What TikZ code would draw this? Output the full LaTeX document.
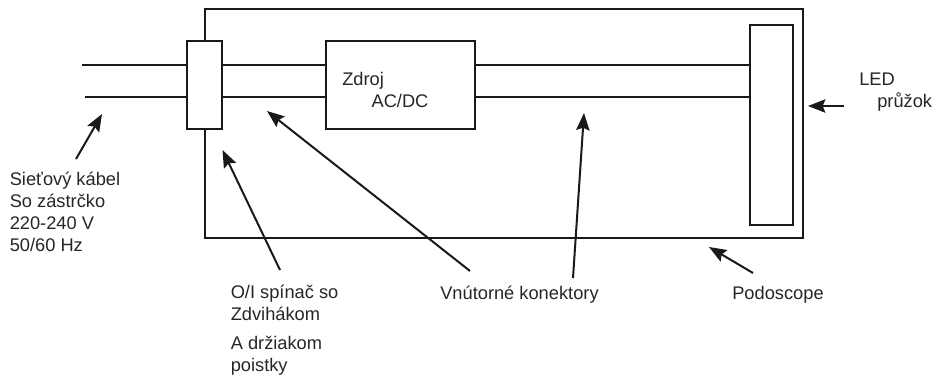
\documentclass[tikz,border=0pt]{standalone}
\usepackage{fontspec}
\setmainfont{Liberation Sans}
\usetikzlibrary{arrows.meta, positioning}

\begin{document}
\begin{tikzpicture}[
    x=0.75pt, y=-0.75pt,
    font=\fontsize{13.7}{16.3}\selectfont,
    part/.style={rectangle, draw=black!90, fill=white, line width=1.5pt, inner sep=0pt},
    wire/.style={draw=black!90, line width=1.5pt},
    arrow/.style={-{Stealth[length=13pt, width=10pt, inset=2pt]}, line width=1.5pt, draw=black!90},
    label/.style={align=left, inner sep=0pt, text=black!85, anchor=base west}
]
\useasboundingbox (0,0) rectangle (935,375);

% Nodes
\node[part, minimum width=598*0.75pt, minimum height=229*0.75pt, anchor=north west] (podo) at (204,8) {};
\node[part, minimum width=35*0.75pt, minimum height=88*0.75pt, anchor=north west] (switch) at (186,40) {};
\node[part, minimum width=149*0.75pt, minimum height=88*0.75pt, anchor=north west] (psu) at (325,40) {};
\node[part, minimum width=43*0.75pt, minimum height=200*0.75pt, anchor=north west] (led) at (749,24) {};

\coordinate (cableA) at (82,65);
\coordinate (cableB) at (85,97);

\node[label] (psutext) at (342,107) {Zdroj\\\hspace*{22pt}AC/DC};
\node[label] (ledtext) at (859,107) {LED\\\hspace*{13.5pt}průžok};
\node[label] (cabletext) at (9.5,251) {Sieťový kábel\\So zástrčko\\220-240 V\\50/60 Hz};
\node[label] (switchtext) at (230.5,320.7) {O/I spínač so\\Zdvihákom};
\node[label] (fusetext) at (230.5,371.5) {A držiakom\\poistky};
\node[label] (conntext) at (440,299) {Vnútorné konektory};
\node[label] (podotext) at (732,299) {Podoscope};

% Arrow ends
\coordinate (cabletail) at (76,159);
\coordinate (cablehead) at (102,114);
\coordinate (switchtail) at (280,270);
\coordinate (switchhead) at (222.5,150);
\coordinate (conntail) at (470,271);
\coordinate (connhead) at (267,111);
\coordinate (conn2tail) at (573,278);
\coordinate (conn2head) at (584,113);
\coordinate (podotail) at (753,273);
\coordinate (podohead) at (709,247);
\coordinate (ledtail) at (844,106);
\coordinate (ledhead) at (808,106);

% Wires
\draw[wire] (cableA) -- (cableA -| switch.west);
\draw[wire] (cableB) -- (cableB -| switch.west);
\draw[wire] (cableA -| switch.east) -- (cableA -| psu.west);
\draw[wire] (cableB -| switch.east) -- (cableB -| psu.west);
\draw[wire] (cableA -| psu.east) -- (cableA -| led.west);
\draw[wire] (cableB -| psu.east) -- (cableB -| led.west);

% Arrows
\draw[arrow] (cabletail) -- (cablehead);
\draw[arrow] (switchtail) -- (switchhead);
\draw[arrow] (conntail) -- (connhead);
\draw[arrow] (conn2tail) -- (conn2head);
\draw[arrow] (podotail) -- (podohead);
\draw[arrow] (ledtail) -- (ledhead);

\end{tikzpicture}
\end{document}
